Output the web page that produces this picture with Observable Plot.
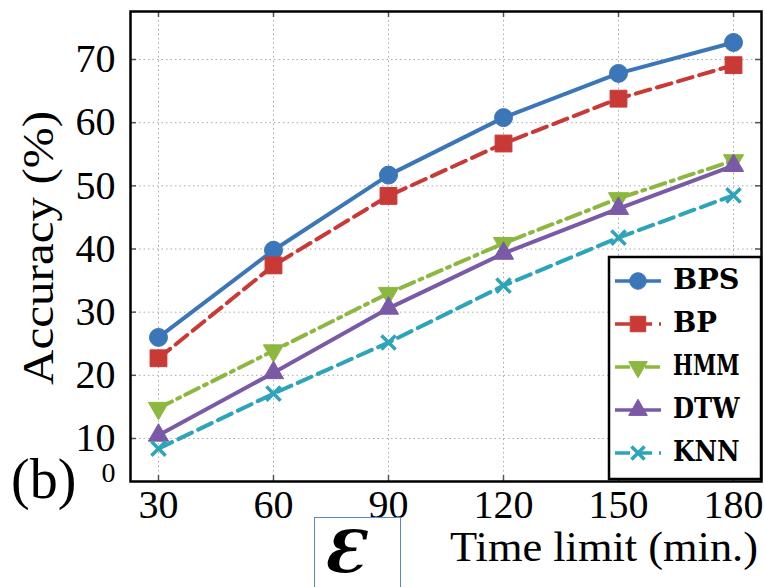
<!DOCTYPE html>
<html><head><meta charset="utf-8">
<script src="https://cdn.jsdelivr.net/npm/d3@7"></script>
<script src="https://cdn.jsdelivr.net/npm/@observablehq/plot@0.6"></script>
<style>body{margin:0;background:#fff;color:#000} svg{display:block}</style>
</head><body><div id="chart"></div>
<script>
// ---- data ----
const timeLimits = [30, 60, 90, 120, 150, 180];
const seriesNames = ["BPS", "BP", "HMM", "DTW", "KNN"];
const bps = [26.0, 39.8, 51.7, 60.8, 67.8, 72.7];
const bp  = [22.7, 37.4, 48.4, 56.7, 63.8, 69.1];
const hmm = [14.8, 23.9, 33.0, 40.9, 48.0, 54.0];
const dtw = [10.5, 20.4, 30.6, 39.3, 46.4, 53.2];
const knn = [8.4, 17.1, 25.2, 34.2, 41.8, 48.5];
const xTicks = [30, 60, 90, 120, 150, 180];
const yTicks = [10, 20, 30, 40, 50, 60, 70];
const zeroTick = [4.6];
const zeroTickLabel = "0";
const xLabel = "Time limit (min.)";
const yLabel = "Accuracy (%)";
const panelLabel = "(b)";
const boxSymbol = "\u0190";

// ---- styles ----
const colors = ["#3b76b8", "#c93a37", "#8cb840", "#7a5aa7", "#2ea4bb"];
const dashes = [null, "15,7", "15,6,3,6", null, "15,7"];
const sqrt3 = Math.sqrt(3);
const triangleDown = {
  draw(context, size) {
    const y = -Math.sqrt(size / (sqrt3 * 3));
    context.moveTo(0, -y * 2);
    context.lineTo(-sqrt3 * y, y);
    context.lineTo(sqrt3 * y, y);
    context.closePath();
  }
};
const symbols = ["circle", "square", triangleDown, "triangle", "times"];
const d3Symbols = [d3.symbolCircle, d3.symbolSquare, triangleDown, d3.symbolTriangle, d3.symbolTimes];
const radii = [9, 9.5, 7.5, 7.5, 6.5];
const seriesValues = [bps, bp, hmm, dtw, knn];

const data = seriesNames.flatMap((name, i) =>
  timeLimits.map((t, j) => ({series: name, idx: i, time: t, acc: seriesValues[i][j]})));

const xDomain = [22.7, 187.3];
const yDomain = [3.19, 77.6];
const W = 765, H = 587, mL = 130, mR = 4, mT = 11, mB = 106;
const tx = (xDomain[1] - xDomain[0]) * 6 / (W - mL - mR);
const ty = (yDomain[1] - yDomain[0]) * 6 / (H - mT - mB);

const seriesMarks = seriesNames.flatMap((name, i) => {
  const d = data.filter(r => r.idx === i);
  const isStroke = symbols[i] === "times";
  return [
    Plot.line(d, {x: "time", y: "acc", stroke: colors[i], strokeWidth: 4,
      strokeDasharray: dashes[i] || undefined}),
    Plot.dot(d, {x: "time", y: "acc", symbol: () => symbols[i], r: radii[i],
      fill: isStroke ? "none" : colors[i], stroke: colors[i],
      strokeWidth: isStroke ? 3.5 : 1})
  ];
});

const plot = Plot.plot({
  width: W, height: H,
  marginLeft: mL, marginRight: mR, marginTop: mT, marginBottom: mB,
  x: {domain: xDomain},
  y: {domain: yDomain},
  style: {fontFamily: "Liberation Serif", background: "white", color: "black"},
  marks: [
    Plot.ruleX(xTicks, {stroke: "#aaa", strokeDasharray: "1.5,3"}),
    Plot.ruleY(yTicks, {stroke: "#aaa", strokeDasharray: "1.5,3"}),
    Plot.ruleY(yTicks, {x1: xDomain[0], x2: xDomain[0] + tx, stroke: "#555", strokeWidth: 1.5}),
    Plot.ruleY(yTicks, {x1: xDomain[1] - tx, x2: xDomain[1], stroke: "#555", strokeWidth: 1.5}),
    Plot.ruleX(xTicks, {y1: yDomain[0], y2: yDomain[0] + ty, stroke: "#555", strokeWidth: 1.5}),
    Plot.ruleX(xTicks, {y1: yDomain[1] - ty, y2: yDomain[1], stroke: "#555", strokeWidth: 1.5}),
    ...seriesMarks,
    Plot.frame({stroke: "black", strokeWidth: 2.5}),
    Plot.axisY(yTicks, {tickSize: 0, tickPadding: 15, fontSize: 40, label: null}),
    Plot.axisY(zeroTick, {tickSize: 0, tickPadding: 15, fontSize: 28, label: null, tickFormat: () => zeroTickLabel}),
    Plot.axisX(xTicks, {tickSize: 0, tickPadding: 8, fontSize: 40, label: null})
  ]
});

document.getElementById("chart").appendChild(plot);
const svg = d3.select(plot);

// axis labels
svg.append("text")
  .attr("transform", "translate(53,248) rotate(-90)")
  .attr("text-anchor", "middle")
  .attr("font-family", "Liberation Serif").attr("font-size", 44)
  .attr("textLength", 274).attr("lengthAdjust", "spacingAndGlyphs")
  .attr("fill", "black").text(yLabel);
svg.append("text")
  .attr("x", 450).attr("y", 561).attr("text-anchor", "start")
  .attr("font-family", "Liberation Serif").attr("font-size", 42)
  .attr("textLength", 308).attr("lengthAdjust", "spacingAndGlyphs")
  .attr("fill", "black").text(xLabel);
svg.append("text")
  .attr("x", 11).attr("y", 498).attr("text-anchor", "start")
  .attr("font-family", "Liberation Serif").attr("font-size", 56)
  .attr("fill", "black").text(panelLabel);

// epsilon box
svg.append("rect").attr("x", 314.5).attr("y", 517.5).attr("width", 86).attr("height", 80)
  .attr("fill", "white").attr("stroke", "#5b86c9").attr("stroke-width", 1);
svg.append("text").attr("x", 344).attr("y", 572).attr("text-anchor", "middle")
  .attr("font-family", "DejaVu Serif").attr("font-style", "italic").attr("font-weight", "bold")
  .attr("font-size", 58)
  .attr("fill", "black").text(boxSymbol);

// legend
const lg = svg.append("g");
lg.append("rect").attr("x", 609).attr("y", 257).attr("width", 152).attr("height", 222)
  .attr("fill", "white").attr("stroke", "black").attr("stroke-width", 2.5);
seriesNames.forEach((name, i) => {
  const cy = 281 + i * 43;
  lg.append("line").attr("x1", 615).attr("x2", 661).attr("y1", cy).attr("y2", cy)
    .attr("stroke", colors[i]).attr("stroke-width", 3.5)
    .attr("stroke-dasharray", dashes[i]);
  const isStroke = symbols[i] === "times";
  lg.append("path").attr("transform", `translate(638,${cy})`)
    .attr("d", d3.symbol(d3Symbols[i], radii[i] * radii[i] * Math.PI * 0.85)())
    .attr("fill", isStroke ? "none" : colors[i]).attr("stroke", colors[i])
    .attr("stroke-width", isStroke ? 3.5 : 1);
  lg.append("text").attr("x", 673).attr("y", cy + 8).attr("text-anchor", "start")
    .attr("font-family", "DejaVu Serif").attr("font-weight", "bold").attr("font-size", 27)
    .attr("textLength", name.length * 22.5 - 1).attr("lengthAdjust", "spacingAndGlyphs")
    .attr("fill", "black").text(name);
});
</script>
</body></html>
